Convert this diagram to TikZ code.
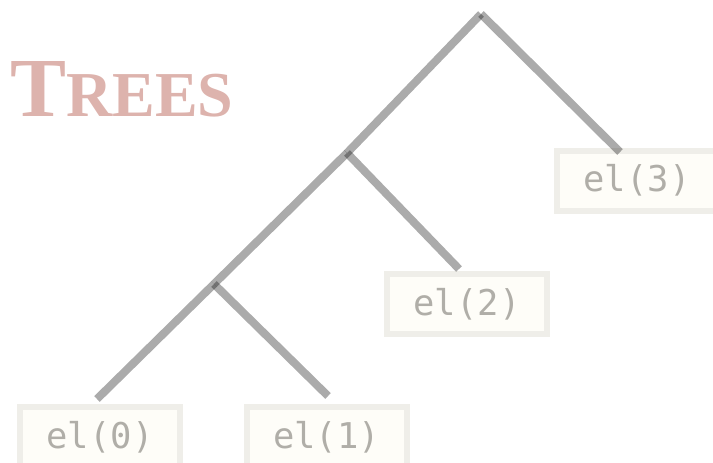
\documentclass[tikz,border=0pt]{standalone}
\usepackage{fontspec}
\setmainfont{Liberation Serif}
\newfontfamily\leafmono{DejaVu Sans Mono}
\begin{document}
\begin{tikzpicture}[x=1pt,y=-1pt,
  leafbox/.style={draw=boxline, fill=boxfill, line width=6pt,
    minimum width=160pt, minimum height=60pt, inner sep=0pt,
    text=leaftext, font=\leafmono\fontsize{35.5}{36}\selectfont},
  branch/.style={line width=8pt, draw=black, draw opacity=0.33, line cap=butt},
  title/.style={text=titlecol, inner sep=0pt, anchor=base west}]
\definecolor{boxline}{HTML}{EFEEE9}
\definecolor{boxfill}{HTML}{FEFDF8}
\definecolor{leaftext}{HTML}{B0AEA8}
\definecolor{titlecol}{HTML}{DDB3AD}
\useasboundingbox (0,0) rectangle (713,463);

% heading in small capitals
\node[title] (heading) at (10,116)
  {\bfseries\fontsize{84}{84}\selectfont T\fontsize{64}{64}\selectfont REES};

% leaves
\node[leafbox] (n0) at (100,437) {el(0)};
\node[leafbox] (n1) at (326.5,437) {el(1)};
\node[leafbox] (n2) at (467,304) {el(2)};
\node[leafbox] (n3) at (637,180.5) {el(3)};

% inner branching points
\coordinate (root) at (481,14);
\coordinate (a) at (347,153);
\coordinate (b) at (214,284);

% branches
\draw[branch] (root) -- (a);
\draw[branch] (root) -- ([xshift=-17pt,yshift=-4.5pt]n3.north);
\draw[branch] (a) -- (b);
\draw[branch] (a) -- ([xshift=-8pt,yshift=2pt]n2.north);
\draw[branch] (b) -- ([xshift=-3pt,yshift=5pt]n0.north);
\draw[branch] (b) -- ([xshift=1.5pt,yshift=8pt]n1.north);
\end{tikzpicture}
\end{document}
